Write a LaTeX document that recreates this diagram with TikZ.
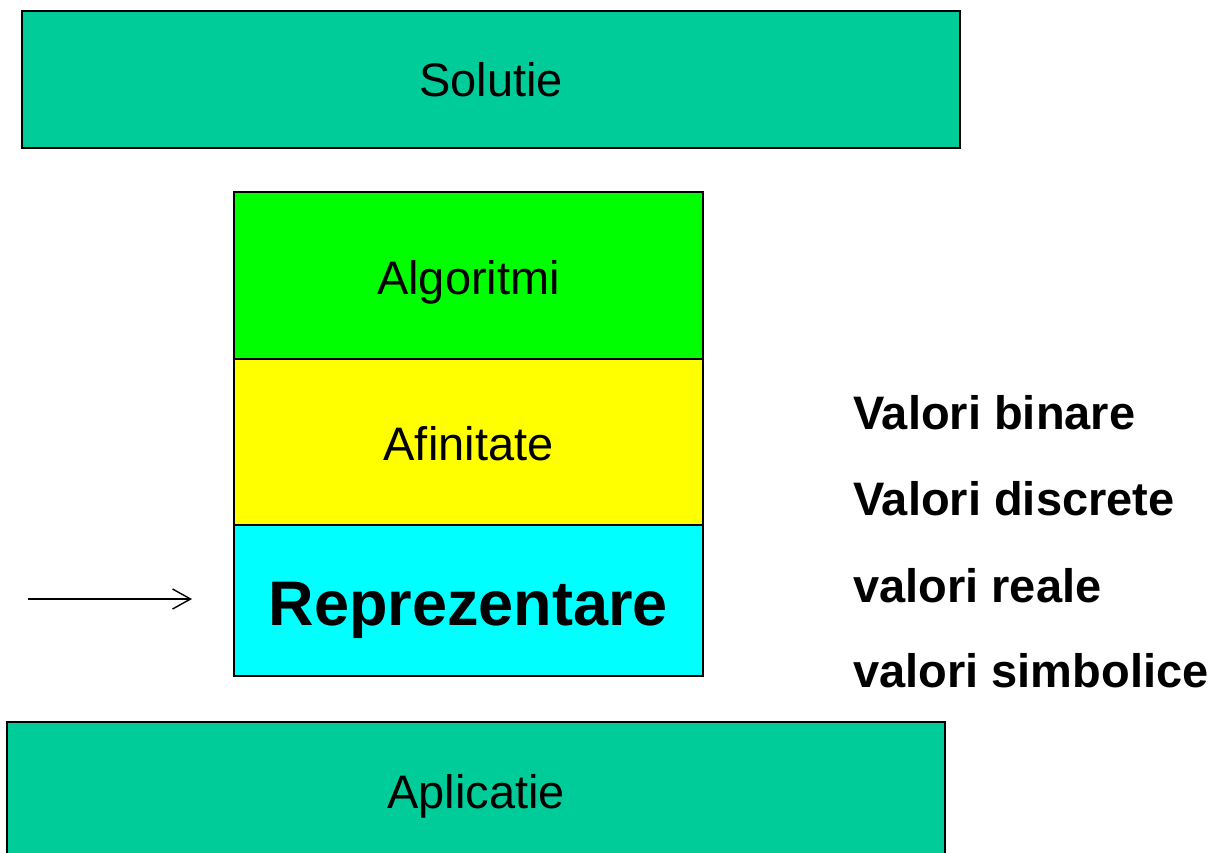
\documentclass[tikz,border=0pt]{standalone}
\usepackage{fontspec}
\setmainfont{Liberation Sans}
\usetikzlibrary{arrows.meta}
\definecolor{teal1}{HTML}{00CC99}
\definecolor{grn}{HTML}{00FF00}
\definecolor{yel}{HTML}{FFFF00}
\definecolor{cyn}{HTML}{00FFFF}
\begin{document}
\begin{tikzpicture}[x=1pt,y=-1pt,
  box/.style={draw=black,line width=1.6pt,inner sep=0pt},
  lbl/.style={font=\fontsize{47}{52}\selectfont,inner sep=0pt},
  side/.style={font=\fontsize{47}{52}\selectfont\bfseries,anchor=base west,inner sep=0pt}]
\useasboundingbox (0,0) rectangle (1220,853);
\fill[white] (0,0) rectangle (1220,853);
% top and bottom boxes
\draw[box,fill=teal1] (22,11) rectangle (960,148);
\node[lbl] (sol) at (491,80) {Solutie};
\draw[box,fill=teal1] (7,722) rectangle (945,866);
\node[lbl] (apl) at (476,796) {Aplicatie};
% stack
\draw[box,fill=grn] (234,192) rectangle (703,359);
\node[lbl] (alg) at (468.5,282) {Algoritmi};
\draw[box,fill=yel] (234,359) rectangle (703,525);
\node[lbl] (afi) at (468.5,444) {Afinitate};
\draw[box,fill=cyn] (234,525) rectangle (703,676);
\node[font=\fontsize{63}{70}\selectfont\bfseries,inner sep=0pt] (rep) at (468.5,610) {Reprezentare};
% arrow
\coordinate (as) at (28,599);
\coordinate (ae) at (192,599);
\draw[line width=1.4pt,-{Straight Barb[length=18pt,width=20pt,line width=1.4pt]}] (as) -- (ae);
% side labels
\node[side] (v1) at (853,429) {Valori binare};
\node[side] (v2) at (853,515) {Valori discrete};
\node[side] (v3) at (853,602) {valori reale};
\node[side] (v4) at (853,687) {valori simbolice};
\end{tikzpicture}
\end{document}
